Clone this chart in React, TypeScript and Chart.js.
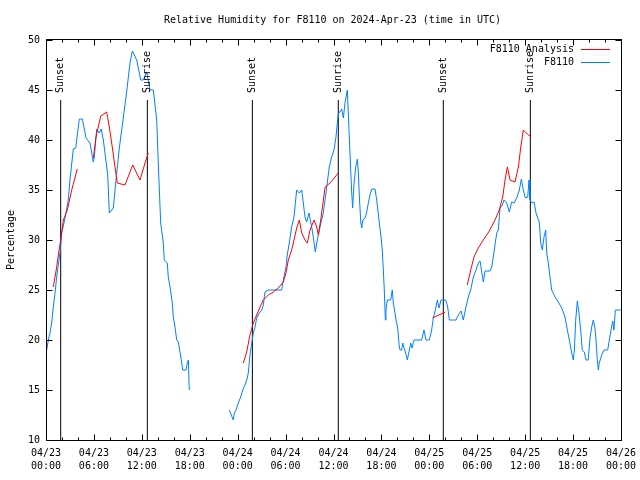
import React, { useEffect, useRef } from 'react';
import { Chart, registerables } from 'chart.js';

Chart.register(...registerables);

const FONT = '"DejaVu Sans Mono", "Liberation Mono", monospace';

const titleText = 'Relative Humidity for F8110 on 2024-Apr-23 (time in UTC)';
const yAxisTitle = 'Percentage';
const seriesNames = ['F8110 Analysis', 'F8110'];

// x tick labels (hours since 04/23 00:00 UTC, every 6 h)
const xDateLabels = ['04/23', '04/23', '04/23', '04/23', '04/24', '04/24', '04/24', '04/24', '04/25', '04/25', '04/25', '04/25', '04/26'];
const xTimeLabels = ['00:00', '06:00', '12:00', '18:00', '00:00', '06:00', '12:00', '18:00', '00:00', '06:00', '12:00', '18:00', '00:00'];

// Sunrise / sunset markers (hours)
const sunEventHours = [1.84, 12.69, 25.84, 36.6, 49.75, 60.65];
const sunEventLabels = ['Sunset', 'Sunrise', 'Sunset', 'Sunrise', 'Sunset', 'Sunrise'];

// Observations (F8110), hours and RH; null breaks the line
const obsHours = [
  0.09, 0.29, 0.5, 0.71, 0.91, 1.13, 1.34, 1.54, 1.75, 1.97, 2.25, 2.5, 2.79, 3.0, 3.42, 3.72, 4.17, 4.55,
  5.01, 5.51, 5.92, 6.05, 6.35, 6.67, 6.92, 7.18, 7.73, 7.93, 8.43, 8.64, 9.18, 10.02, 10.52, 10.81, 11.36,
  11.86, 12.18, 12.61, 13.02, 13.44, 13.86, 14.06, 14.36, 14.69, 14.81, 15.19, 15.31, 15.53, 15.82, 15.94,
  16.15, 16.37, 16.57, 16.78, 16.99, 17.12, 17.53, 17.69, 17.82, 17.94,
  20.0,
  22.95, 23.45, 23.58, 23.79, 24.08, 24.38, 24.63, 24.92, 25.21, 25.33, 25.54, 25.76, 25.96, 26.17, 26.38,
  26.71, 27.01, 27.21, 27.42, 27.84, 29.51, 29.71, 30.05, 30.21, 30.46, 30.76, 31.05, 31.39, 31.72, 32.02,
  32.22, 32.43, 32.64, 32.93, 33.27, 33.47, 33.72, 33.97, 34.31, 34.72, 35.06, 35.47, 35.77, 36.06, 36.31,
  36.48, 36.61, 36.81, 37.03, 37.23, 37.44, 37.73, 37.94, 38.28, 38.4, 38.57, 38.82, 38.99, 39.11, 39.24,
  39.42, 39.54, 39.66, 39.95, 40.16, 40.36, 40.57, 40.78, 41.2, 41.41, 41.74, 41.95, 42.11, 42.24, 42.36,
  42.49, 42.57, 42.74, 43.16, 43.36, 43.49, 43.7, 43.83, 44.04, 44.24, 44.33, 44.54, 44.67, 44.83, 45.04,
  45.24, 45.42, 45.67, 45.83, 46.08, 47.04, 47.33, 47.58, 48.0, 48.29, 48.5, 48.75, 49.0, 49.21, 49.46,
  50.05, 50.3, 50.5, 51.34, 51.63, 51.97, 52.25, 52.59, 52.88, 53.18, 53.51, 53.84, 54.13, 54.35, 54.56,
  54.76, 54.97, 55.6, 55.81, 56.01, 56.22, 56.44, 56.64, 56.85, 57.1, 57.35, 57.69, 58.01, 58.31, 58.6,
  58.94, 59.27, 59.52, 59.77, 60.02, 60.32, 60.48, 60.6, 60.86, 61.11, 61.36, 61.57, 61.77, 61.95, 62.15,
  62.36, 62.57, 62.7, 62.9, 63.11, 63.32, 63.74, 64.15, 64.58, 64.99, 65.28, 65.53, 65.83, 66.03, 66.16,
  66.33, 66.53, 66.74, 66.95, 67.15, 67.4, 67.62, 67.9, 68.12, 68.33, 68.53, 68.74, 68.87, 69.03, 69.16,
  69.28, 69.58, 69.87, 70.33, 70.54, 70.75, 70.96, 71.12, 71.29, 71.96,
];
const obsRH: (number | null)[] = [
  19, 20, 20.7, 21.7, 23.3, 24.7, 26.3, 27.5, 28.7, 30.7, 31.7, 32.7, 34, 36, 39.1, 39.2, 42.1, 42.1,
  40.2, 39.7, 37.8, 38.3, 41.1, 40.7, 41.1, 40, 36.5, 32.7, 33.2, 35, 39.2, 44.3, 47.7, 48.9, 48,
  46, 46, 46.8, 45, 45, 42, 37.7, 31.7, 29.7, 28, 27.7, 26.3, 25.3, 23.7, 22.3,
  21.3, 20, 19.8, 18.8, 17.7, 17, 17, 17.7, 18, 15,
  null,
  13, 12, 12.7, 13, 13.7, 14.3, 15, 15.5, 16.2, 16.7, 18.5, 19.7, 20.7, 21.3, 22.2,
  22.7, 23, 23.5, 24.8, 25, 25, 26, 27.3, 28.5, 29.7, 31.3, 32.3, 35, 34.7, 35,
  33.7, 32.3, 31.8, 32.7, 31.3, 30.3, 28.8, 30, 31.3, 32.7, 34.7, 37.3, 38.3, 39, 40.3,
  41.7, 42.7, 42.8, 43.1, 42.2, 43.7, 45, 41, 34.7, 33.2, 35.7, 37.5, 38.1, 36.8, 34.3,
  31.7, 31.2, 32, 32.2, 32.8, 33.7, 34.5, 35.1, 35.1, 34, 31.7, 30.3, 29, 27, 25,
  22, 23, 24, 24, 25, 23.7, 22.7, 22, 21.2, 19.3, 19, 19, 19.7, 19.2, 18.7,
  18, 18.7, 19.7, 19.2, 20, 20, 21, 20, 20, 21, 22.2, 23, 24, 23.2, 24,
  24, 23.3, 22, 22, 22.5, 22.9, 22, 23.3, 24.3, 25, 26.3, 27, 27.7, 27.9, 26.8,
  25.8, 26.9, 26.9, 27.3, 28.3, 29.5, 30.7, 31, 33.2, 33.4, 34, 33.7, 32.8, 33.8, 33.7,
  34.2, 35, 36.1, 35, 34.2, 34.3, 36, 34, 33.7, 33.8, 32.7, 32.2, 31.8, 29.7, 29,
  30.3, 31, 28.7, 27.7, 26.3, 25, 24.3, 23.8, 23.2, 22.3, 21, 20, 18.7, 18, 19,
  22, 23.9, 22.7, 21, 19, 18.8, 18, 18, 20.2, 21.3, 22, 21.2, 20, 18, 17,
  17.7, 18.5, 19, 19, 20, 21, 21.9, 21, 23, 23,
];

// Analysis (F8110 Analysis), hours and RH; null breaks the line
const anaHours = [
  0.91, 1.13, 1.34, 1.54, 1.84, 2.17, 2.67, 3.22, 3.92,
  4.9,
  5.92, 6.26, 6.85, 7.6, 7.93, 8.35, 8.64, 8.93, 9.89, 10.86, 11.77, 12.4, 12.81,
  18.0,
  24.71, 25.13, 25.54, 25.96, 26.38, 26.8, 27.21, 27.84, 28.46, 29.09, 29.71, 30.05, 30.34, 30.76, 30.97,
  31.39, 31.72, 32.02, 32.43, 32.72, 33.06, 33.56, 33.9, 34.1, 34.4, 34.73, 34.95, 35.56, 36.6,
  42.0,
  48.4, 49.2, 50.0,
  51.0,
  52.75, 53.18, 53.59, 54.13, 54.76, 55.51, 56.22, 56.76, 57.19, 57.48, 57.77, 58.11, 58.73, 59.15, 59.45,
  59.77, 60.27, 60.73,
];
const anaRH: (number | null)[] = [
  25.3, 26.3, 27.3, 28.5, 30, 32, 33, 35, 37.1,
  null,
  38.2, 40.3, 42.4, 42.8, 41.3, 39, 37.3, 35.7, 35.5, 37.5, 36, 37.7, 38.7,
  null,
  17.7, 18.8, 20.5, 21.7, 22.5, 23.3, 24, 24.5, 24.8, 25.2, 25.8, 26.7, 28, 29, 29.7,
  31.2, 32, 30.7, 30, 29.7, 31, 32, 31.3, 30.5, 32, 34, 35.3, 35.7, 36.7,
  null,
  22.2, 22.5, 22.8,
  null,
  25.5, 27, 28.3, 29.2, 30, 30.9, 32, 33, 34.3, 36, 37.3, 36, 35.8, 37.3, 39.3,
  41, 40.6, 40.3,
];

const SUN_LINE_TOP = 44;
const RED = '#ff0000';
const BLUE = 'rgb(0,128,255)';

const toPoints = (xs: number[], ys: (number | null)[]) => xs.map((x, i) => ({ x, y: ys[i] }));

const gnuplotPlugin = {
  id: 'gnuplotDecor',
  afterDatasetsDraw(chart: any) {
    const { ctx, chartArea, scales } = chart;
    const xs = scales.x;
    const ys = scales.y;
    ctx.save();
    ctx.font = `10px ${FONT}`;
    ctx.fillStyle = '#000';

    // title
    ctx.textAlign = 'center';
    ctx.textBaseline = 'middle';
    ctx.fillText(titleText, (chartArea.left + chartArea.right) / 2 - 1, 20);

    // sun event labels
    ctx.textAlign = 'left';
    ctx.textBaseline = 'middle';
    sunEventHours.forEach((h, i) => {
      const px = xs.getPixelForValue(h);
      const py = ys.getPixelForValue(SUN_LINE_TOP) - 7;
      ctx.save();
      ctx.translate(px, py);
      ctx.rotate(-Math.PI / 2);
      ctx.fillText(sunEventLabels[i], 0, 0);
      ctx.restore();
    });

    // border
    ctx.strokeStyle = '#000';
    ctx.lineWidth = 1;
    const l = Math.round(chartArea.left) + 0.5;
    const r = Math.round(chartArea.right) + 0.5;
    const t = Math.round(chartArea.top) - 0.5;
    const b = Math.round(chartArea.bottom) + 0.5;
    ctx.strokeRect(l, t, r - l, b - t);

    // ticks (inward, mirrored)
    ctx.beginPath();
    for (let h = 0; h <= 72; h += 2) {
      const px = Math.round(xs.getPixelForValue(h)) + 0.5;
      const len = h % 6 === 0 ? 6 : 3;
      ctx.moveTo(px, b);
      ctx.lineTo(px, b - len);
      ctx.moveTo(px, t);
      ctx.lineTo(px, t + len);
    }
    for (let v = 10; v <= 50; v += 5) {
      const py = Math.round(ys.getPixelForValue(v)) + 0.5;
      ctx.moveTo(l, py);
      ctx.lineTo(l + 6, py);
      ctx.moveTo(r, py);
      ctx.lineTo(r - 6, py);
    }
    ctx.stroke();

    // legend
    ctx.textAlign = 'right';
    ctx.textBaseline = 'middle';
    const rows = [
      { label: seriesNames[0], color: RED, y: 49 },
      { label: seriesNames[1], color: BLUE, y: 62 },
    ];
    rows.forEach((row) => {
      ctx.fillStyle = '#000';
      ctx.fillText(row.label, 574, row.y);
      ctx.strokeStyle = row.color;
      ctx.beginPath();
      ctx.moveTo(581, row.y + 0.5);
      ctx.lineTo(610, row.y + 0.5);
      ctx.stroke();
    });
    ctx.restore();
  },
};

export default function App() {
  const ref = useRef<HTMLCanvasElement>(null);

  useEffect(() => {
    if (!ref.current) return;
    const sunDatasets = sunEventHours.map((h) => ({
      label: 'sun',
      data: [
        { x: h, y: 10 },
        { x: h, y: SUN_LINE_TOP },
      ],
      borderColor: '#000',
      borderWidth: 1,
      pointRadius: 0,
      fill: false,
    }));
    const chart = new Chart(ref.current, {
      type: 'line',
      data: {
        datasets: [
          {
            label: seriesNames[0],
            data: toPoints(anaHours, anaRH),
            borderColor: RED,
            borderWidth: 1,
            pointRadius: 0,
            spanGaps: false,
            tension: 0,
            fill: false,
          },
          {
            label: seriesNames[1],
            data: toPoints(obsHours, obsRH),
            borderColor: BLUE,
            borderWidth: 1,
            pointRadius: 0,
            spanGaps: false,
            tension: 0,
            fill: false,
          },
          ...sunDatasets,
        ],
      },
      options: {
        responsive: false,
        animation: false,
        devicePixelRatio: 1,
        layout: { padding: { left: 0, right: 19, top: 40, bottom: 0 } },
        plugins: {
          legend: { display: false },
          tooltip: { enabled: false },
          title: { display: false },
        },
        scales: {
          x: {
            type: 'linear',
            min: 0,
            max: 72,
            grid: { display: false, drawTicks: false },
            border: { display: false },
            ticks: {
              stepSize: 6,
              autoSkip: false,
              maxRotation: 0,
              minRotation: 0,
              padding: 7,
              color: '#000',
              font: { family: FONT, size: 10, lineHeight: 1.3 },
              callback: (value: any) => {
                const i = Math.round(Number(value) / 6);
                return [xDateLabels[i], xTimeLabels[i]];
              },
            },
            afterFit: (s: any) => {
              s.height = 40;
              s.paddingLeft = 0;
              s.paddingRight = 0;
            },
          },
          y: {
            min: 10,
            max: 50,
            grid: { display: false, drawTicks: false },
            border: { display: false },
            ticks: {
              stepSize: 5,
              padding: 6,
              color: '#000',
              font: { family: FONT, size: 10 },
            },
            title: {
              display: true,
              text: yAxisTitle,
              color: '#000',
              font: { family: FONT, size: 10, lineHeight: 1.2 },
              padding: { top: 5, bottom: 0 },
            },
            afterFit: (s: any) => {
              s.width = 46;
              s.paddingTop = 0;
              s.paddingBottom = 0;
            },
          },
        },
      },
      plugins: [gnuplotPlugin],
    });
    return () => chart.destroy();
  }, []);

  return (
    <canvas
      ref={ref}
      width={640}
      height={480}
      style={{ position: 'absolute', left: 0, top: 0, width: 640, height: 480, display: 'block' }}
    />
  );
}
